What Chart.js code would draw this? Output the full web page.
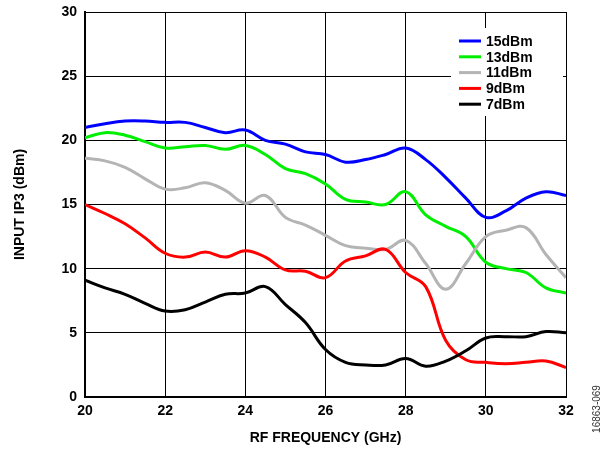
<!DOCTYPE html>
<html>
<head>
<meta charset="utf-8">
<script src="https://cdn.jsdelivr.net/npm/chart.js@4"></script>
<style>
  html, body { margin: 0; padding: 0; background: #fff; }
  #wrap { width: 607px; height: 451px; }
</style>
</head>
<body>
<div id="wrap"><canvas id="chartIP3" width="607" height="451"></canvas></div>
<script>
// frecuencias en GHz (cada 0.5)
const freqs = [20, 20.5, 21, 21.5, 22, 22.5, 23, 23.5, 24, 24.5, 25, 25.5, 26,
               26.5, 27, 27.5, 28, 28.5, 29, 29.5, 30, 30.5, 31, 31.5, 32];

// IP3 de entrada (dBm) por potencia de LO
const ip3_15 = [21.0, 21.3, 21.5, 21.5, 21.4, 21.4, 21.0, 20.6, 20.8, 20.0, 19.7, 19.1, 18.9,
                18.3, 18.5, 18.9, 19.4, 18.5, 17.1, 15.5, 14.0, 14.5, 15.5, 16.0, 15.7];
const ip3_13 = [20.2, 20.6, 20.4, 19.9, 19.4, 19.5, 19.6, 19.3, 19.6, 18.9, 17.8, 17.4, 16.6,
                15.4, 15.2, 15.0, 16.0, 14.2, 13.3, 12.5, 10.5, 10.0, 9.7, 8.5, 8.1];
const ip3_11 = [18.6, 18.4, 17.9, 17.0, 16.2, 16.3, 16.7, 16.1, 15.1, 15.7, 14.0, 13.4, 12.6,
                11.8, 11.6, 11.5, 12.2, 10.4, 8.4, 10.4, 12.5, 13.0, 13.2, 11.1, 9.3];
const ip3_9  = [15.0, 14.3, 13.5, 12.4, 11.2, 10.9, 11.3, 10.9, 11.4, 10.9, 9.9, 9.8, 9.3,
                10.6, 11.0, 11.5, 9.7, 8.6, 4.4, 2.9, 2.7, 2.6, 2.7, 2.8, 2.3];
const ip3_7  = [9.1, 8.5, 8.0, 7.3, 6.7, 6.8, 7.4, 8.0, 8.1, 8.6, 7.2, 5.8, 3.7,
                2.7, 2.5, 2.5, 3.0, 2.4, 2.8, 3.6, 4.6, 4.7, 4.7, 5.1, 5.0];

const seriesNames = ['15dBm', '13dBm', '11dBm', '9dBm', '7dBm'];
const seriesColors = ['#0000ff', '#00ee00', '#b4b4b4', '#ff0000', '#000000'];
const seriesData = [ip3_15, ip3_13, ip3_11, ip3_9, ip3_7];

const FONT = 'Liberation Sans, Arial, sans-serif';

// leyenda dentro del area del grafico, arriba a la derecha
const insideLegend = {
  id: 'insideLegend',
  afterDraw(chart) {
    const ctx = chart.ctx;
    ctx.save();
    ctx.fillStyle = '#fff';
    ctx.fillRect(451, 28, 112, 88);
    ctx.font = 'bold 14px ' + FONT;
    ctx.textBaseline = 'middle';
    seriesNames.forEach(function(name, i) {
      const y = 41 + i * 15.8;
      ctx.strokeStyle = seriesColors[i];
      ctx.lineWidth = 3;
      ctx.beginPath();
      ctx.moveTo(459, y);
      ctx.lineTo(481, y);
      ctx.stroke();
      ctx.fillStyle = '#000';
      ctx.fillText(name, 486, y + 1);
    });
    // codigo de figura vertical
    ctx.translate(597, 409);
    ctx.rotate(-Math.PI / 2);
    ctx.font = '10px ' + FONT;
    ctx.fillStyle = '#333';
    ctx.textAlign = 'center';
    ctx.fillText('16863-069', 0, 0);
    ctx.restore();
  }
};

new Chart(document.getElementById('chartIP3').getContext('2d'), {
  type: 'line',
  data: {
    datasets: seriesData.map(function(vals, i) {
      return {
        label: seriesNames[i],
        data: vals.map((v, k) => ({ x: freqs[k], y: v })),
        borderColor: seriesColors[i],
        borderWidth: 3,
        pointRadius: 0,
        tension: 0.4,
        fill: false
      };
    }).reverse()
  },
  options: {
    responsive: false,
    animation: false,
    layout: { padding: { top: 12, right: 41, left: 0, bottom: 0 } },
    plugins: { legend: { display: false }, tooltip: { enabled: false } },
    scales: {
      x: {
        type: 'linear',
        min: 20, max: 32,
        afterFit: function(s) { s.height = 54; },
        grid: { color: '#000', lineWidth: 1, drawTicks: false },
        border: { color: '#000', width: 2 },
        ticks: { stepSize: 2, color: '#000', padding: 6, font: { family: FONT, size: 14, weight: 'bold' } },
        title: { display: true, text: 'RF FREQUENCY (GHz)', color: '#000', padding: { top: 6 },
                 font: { family: FONT, size: 14, weight: 'bold' } }
      },
      y: {
        min: 0, max: 30,
        afterFit: function(s) { s.width = 85; s.paddingTop = 0; s.paddingBottom = 0; },
        grid: { color: '#000', lineWidth: 1, drawTicks: false },
        border: { color: '#000', width: 2 },
        ticks: { stepSize: 5, color: '#000', padding: 8, font: { family: FONT, size: 14, weight: 'bold' } },
        title: { display: true, text: 'INPUT IP3 (dBm)', color: '#000', padding: { top: 12, bottom: 4 },
                 font: { family: FONT, size: 14, weight: 'bold' } }
      }
    }
  },
  plugins: [insideLegend]
});
</script>
</body>
</html>
